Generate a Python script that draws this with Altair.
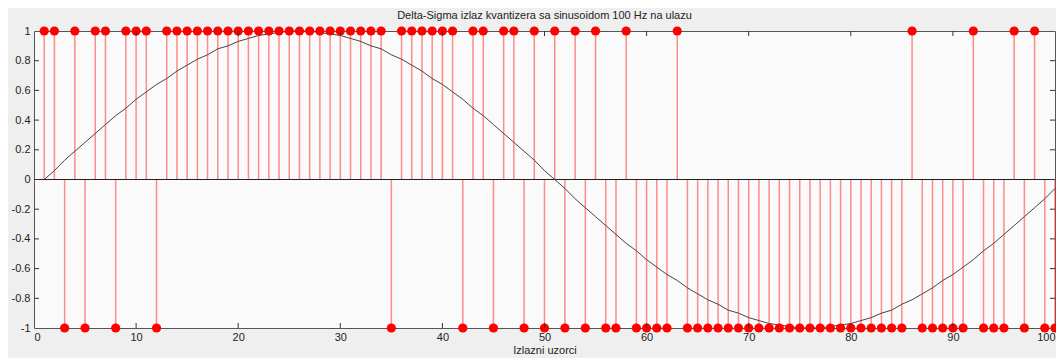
import altair as alt
import pandas as pd

# Output sample index
n = list(range(1, 101))

# Quantizer output (+1 / -1)
q = [1, 1, -1, 1, -1, 1, 1, -1, 1, 1,
     1, -1, 1, 1, 1, 1, 1, 1, 1, 1,
     1, 1, 1, 1, 1, 1, 1, 1, 1, 1,
     1, 1, 1, 1, -1, 1, 1, 1, 1, 1,
     1, -1, 1, 1, -1, 1, 1, -1, 1, -1,
     1, -1, 1, -1, 1, -1, -1, 1, -1, -1,
     -1, -1, 1, -1, -1, -1, -1, -1, -1, -1,
     -1, -1, -1, -1, -1, -1, -1, -1, -1, -1,
     -1, -1, -1, -1, -1, 1, -1, -1, -1, -1,
     -1, 1, -1, -1, -1, 1, -1, 1, -1, -1]

# Input sinusoid values
s = [0.00, 0.06, 0.13, 0.19, 0.25, 0.31, 0.37, 0.43, 0.48, 0.54,
     0.59, 0.64, 0.68, 0.73, 0.77, 0.81, 0.84, 0.88, 0.90, 0.93,
     0.95, 0.97, 0.98, 0.99, 1.00, 1.00, 1.00, 0.99, 0.98, 0.97,
     0.95, 0.93, 0.90, 0.88, 0.84, 0.81, 0.77, 0.73, 0.68, 0.64,
     0.59, 0.54, 0.48, 0.43, 0.37, 0.31, 0.25, 0.19, 0.13, 0.06,
     0.00, -0.06, -0.13, -0.19, -0.25, -0.31, -0.37, -0.43, -0.48, -0.54,
     -0.59, -0.64, -0.68, -0.73, -0.77, -0.81, -0.84, -0.88, -0.90, -0.93,
     -0.95, -0.97, -0.98, -0.99, -1.00, -1.00, -1.00, -0.99, -0.98, -0.97,
     -0.95, -0.93, -0.90, -0.88, -0.84, -0.81, -0.77, -0.73, -0.68, -0.64,
     -0.59, -0.54, -0.48, -0.43, -0.37, -0.31, -0.25, -0.19, -0.13, -0.06]

x_ticks = [0, 10, 20, 30, 40, 50, 60, 70, 80, 90, 100]
y_ticks = [-1, -0.8, -0.6, -0.4, -0.2, 0, 0.2, 0.4, 0.6, 0.8, 1]
x_inner = [10, 20, 30, 40, 50, 60, 70, 80, 90]
y_inner = [-0.8, -0.6, -0.4, -0.2, 0, 0.2, 0.4, 0.6, 0.8]

df = pd.DataFrame({"n": n, "q": q, "s": s})
xt = pd.DataFrame({"t": x_inner})
yt = pd.DataFrame({"t": y_inner})

W, H = 1021, 297
TL = 5

xs = alt.Scale(domain=[0, 100], nice=False, zero=False)
ys = alt.Scale(domain=[-1, 1], nice=False, zero=False)

xax = alt.Axis(values=x_ticks, ticks=False, domain=False, grid=False,
               labelPadding=3, title="Izlazni uzorci", titlePadding=2,
               labelFontSize=11, titleFontSize=11, titleFontWeight="normal")
yax = alt.Axis(values=y_ticks, ticks=False, domain=False, grid=False,
               labelPadding=4, title=None, labelFontSize=11,
               labelExpr="'' + datum.value")

base = alt.Chart(df)

stems = base.mark_rule(color="#ff3030", opacity=0.55, strokeWidth=1.5).encode(
    x=alt.X("n:Q", scale=xs, axis=xax),
    y=alt.Y("q:Q", scale=ys, axis=yax),
    y2=alt.datum(0),
)

zero_line = alt.Chart(df).mark_rule(color="#222", strokeWidth=1).encode(
    x=alt.X(datum=0, scale=xs, axis=xax),
    x2=alt.datum(100),
    y=alt.Y(datum=0, scale=ys, axis=yax),
)

sine = base.mark_line(color="#444", strokeWidth=1).encode(
    x=alt.X("n:Q", scale=xs, axis=xax),
    y=alt.Y("s:Q", scale=ys, axis=yax),
)

dots = base.mark_circle(color="#ff0000", opacity=1, size=85).encode(
    x=alt.X("n:Q", scale=xs, axis=xax),
    y=alt.Y("q:Q", scale=ys, axis=yax),
)

top_ticks = alt.Chart(xt).mark_rule(color="#333").encode(
    x=alt.X("t:Q", scale=xs, axis=xax), y=alt.value(0), y2=alt.value(TL))
bot_ticks = alt.Chart(xt).mark_rule(color="#333").encode(
    x=alt.X("t:Q", scale=xs, axis=xax), y=alt.value(H), y2=alt.value(H - TL))
left_ticks = alt.Chart(yt).mark_rule(color="#333").encode(
    y=alt.Y("t:Q", scale=ys, axis=yax), x=alt.value(0), x2=alt.value(TL))
right_ticks = alt.Chart(yt).mark_rule(color="#333").encode(
    y=alt.Y("t:Q", scale=ys, axis=yax), x=alt.value(W), x2=alt.value(W - TL))

chart = alt.layer(
    stems, zero_line, sine, dots, top_ticks, bot_ticks, left_ticks, right_ticks
).properties(
    width=W, height=H,
    title=alt.TitleParams("Delta-Sigma izlaz kvantizera sa sinusoidom 100 Hz na ulazu",
                          fontSize=11, fontWeight="normal", color="#222",
                          anchor="middle", offset=4),
    autosize=alt.AutoSizeParams(type="none"),
    padding={"left": 26, "top": 23, "right": 1, "bottom": 30},
).configure(
    background="#efefef",
    font="Liberation Sans",
).configure_view(
    fill="#fafafa", stroke="#555", strokeWidth=1,
).configure_axis(
    labelColor="#222", titleColor="#222", labelFont="Liberation Sans",
    titleFont="Liberation Sans",
)

chart.save("out.html", embed_options={"renderer": "svg", "actions": False})
